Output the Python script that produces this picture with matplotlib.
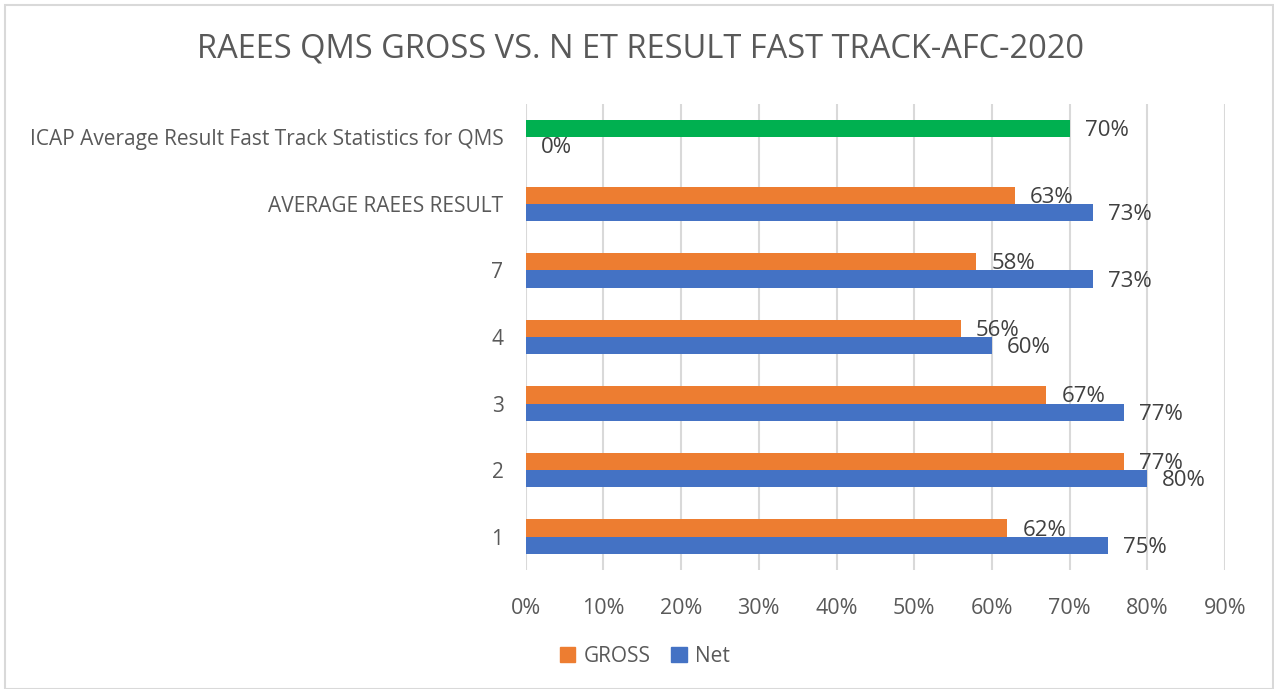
import matplotlib
matplotlib.use("Agg")
import matplotlib.pyplot as plt
from matplotlib.patches import Rectangle, Patch

categories = ["1", "2", "3", "4", "7", "AVERAGE RAEES RESULT",
              "ICAP Average Result Fast Track Statistics for QMS"]
gross = [0.62, 0.77, 0.67, 0.56, 0.58, 0.63, 0.70]
net = [0.75, 0.80, 0.77, 0.60, 0.73, 0.73, 0.00]
gross_colors = ["#ED7D31"] * 6 + ["#00B050"]
net_color = "#4472C4"
x_ticks = [0.0, 0.1, 0.2, 0.3, 0.4, 0.5, 0.6, 0.7, 0.8, 0.9]
title = "RAEES QMS GROSS VS. N ET RESULT FAST TRACK-AFC-2020"

plt.rcParams['font.family'] = ['Open Sans', 'DejaVu Sans']

W, H = 1274, 689
fig = plt.figure(figsize=(W / 100, H / 100), dpi=100)
fig.patch.set_facecolor("white")
fig.add_artist(Rectangle((5 / W, 0), (W - 6) / W, (H - 5) / H, transform=fig.transFigure,
                         fill=False, edgecolor="#d9d9d9", linewidth=1.5))

ax = fig.add_axes([525.7 / W, 1 - 570 / H, (1225 - 525.7) / W, (570 - 104) / H])
ypos = list(range(len(categories)))
h = 0.26
ax.barh([y + h / 2 for y in ypos], gross, height=h, color=gross_colors, zorder=3)
ax.barh([y - h / 2 for y in ypos], net, height=h, color=net_color, zorder=3)

for y, v in zip(ypos, gross):
    ax.annotate(f"{round(v * 100)}%", (v, y + h / 2), xytext=(15, -2), textcoords="offset pixels",
                ha="left", va="center", fontsize=16, color="#404040", zorder=4)
for y, v in zip(ypos, net):
    ax.annotate(f"{round(v * 100)}%", (v, y - h / 2), xytext=(15, -2), textcoords="offset pixels",
                ha="left", va="center", fontsize=16, color="#404040", zorder=4)

ax.set_xlim(0, 0.9)
ax.set_ylim(-0.5, len(categories) - 0.5)
ax.set_xticks(x_ticks)
ax.set_xticklabels([f"{round(t * 100)}%" for t in x_ticks])
ax.set_yticks(ypos)
ax.set_yticklabels(categories)
ax.tick_params(axis="x", length=0, pad=20, labelsize=15.5, labelcolor="#595959")
ax.tick_params(axis="y", length=0, pad=16, labelsize=15, labelcolor="#595959")
ax.grid(axis="x", color="#d9d9d9", linewidth=1.5, zorder=0)
for s in ax.spines.values():
    s.set_visible(False)

fig.text(0.5 * (198 + 1083) / W, 1 - 49 / H, title, ha="center", va="center",
         fontsize=23.5, color="#595959")

handles = [Patch(color="#ED7D31", label="GROSS"), Patch(color=net_color, label="Net")]
fig.legend(handles=handles, loc="center", bbox_to_anchor=(645 / W, 1 - 656 / H), ncol=2,
           frameon=False, fontsize=15, labelcolor="#595959", handlelength=0.75, handleheight=0.75,
           handletextpad=0.4, columnspacing=1.0)

fig.savefig("out.png", dpi=100, facecolor="white")
